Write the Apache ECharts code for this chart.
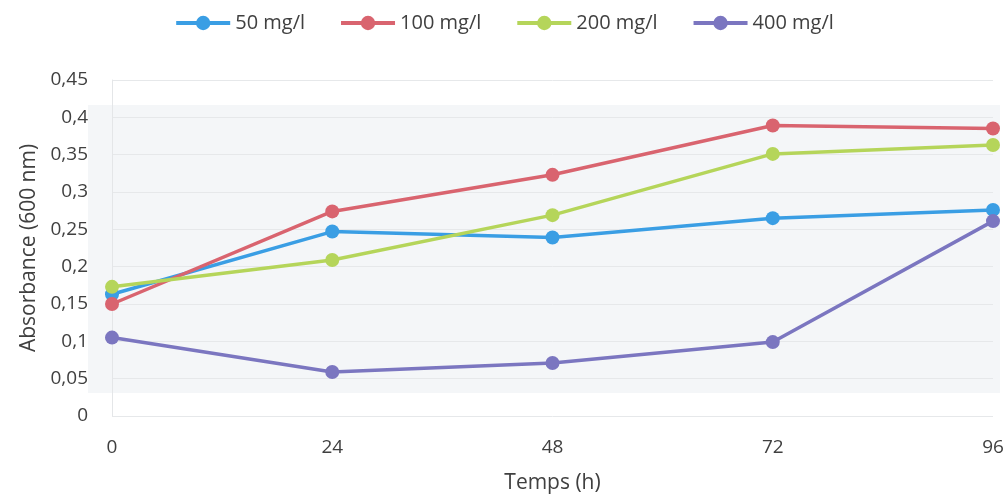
<!DOCTYPE html>
<html>
<head>
<meta charset="utf-8">
<script src="https://cdn.jsdelivr.net/npm/echarts@6/dist/echarts.min.js"></script>
<style>
  html, body { margin: 0; padding: 0; background: #fff; }
  #chart { width: 1008px; height: 496px; }
</style>
</head>
<body>
<div id="chart"></div>
<script>
// Sampling times (h)
const hours = ['0', '24', '48', '72', '96'];

// Absorbance at 600 nm for each concentration
const s50  = [0.163, 0.247, 0.239, 0.265, 0.276];
const s100 = [0.150, 0.274, 0.323, 0.389, 0.385];
const s200 = [0.173, 0.209, 0.269, 0.351, 0.363];
const s400 = [0.105, 0.059, 0.071, 0.099, 0.261];

const seriesNames = ['50 mg/l', '100 mg/l', '200 mg/l', '400 mg/l'];
const seriesData = [s50, s100, s200, s400];
const colors = ['#3a9ee4', '#d9646f', '#b5d55a', '#7b76c0'];

const font = '"Open Sans", "Noto Sans", sans-serif';
const textColor = '#404040';

const chart = echarts.init(document.getElementById('chart'));

chart.setOption({
  animation: false,
  textStyle: { fontFamily: font },
  graphic: [{
    type: 'rect',
    z: -1,
    shape: { x: 88, y: 105, width: 912, height: 288 },
    style: { fill: '#f4f6f8' }
  }],
  legend: {
    top: 8,
    left: 'center',
    itemWidth: 54,
    itemHeight: 18,
    itemGap: 34,
    lineStyle: { width: 4 },
    textStyle: { fontSize: 20, color: textColor, fontFamily: font },
    data: seriesNames
  },
  grid: { left: 112, right: 15, top: 80, bottom: 80, outerBoundsMode: 'none', containLabel: false },
  xAxis: {
    type: 'category',
    data: hours,
    boundaryGap: false,
    name: 'Temps (h)',
    nameLocation: 'middle',
    nameGap: 57,
    nameTextStyle: { fontSize: 21, color: textColor },
    axisLine: { show: false },
    axisTick: { show: false },
    axisLabel: { fontSize: 19, color: textColor, margin: 22 },
    splitLine: { show: false }
  },
  yAxis: {
    type: 'value',
    min: 0,
    max: 0.45,
    interval: 0.05,
    name: 'Absorbance (600 nm)',
    nameLocation: 'middle',
    nameGap: 70,
    nameTextStyle: { fontSize: 21, color: textColor },
    axisLine: { show: true, lineStyle: { color: '#e4e6e8', width: 1 } },
    axisTick: { show: false },
    axisLabel: {
      fontSize: 19,
      color: textColor,
      margin: 24,
      formatter: v => String(Math.round(v * 100) / 100).replace('.', ',')
    },
    splitLine: { lineStyle: { color: '#e6e8ea', width: 1 } }
  },
  series: seriesNames.map((name, i) => ({
    name: name,
    type: 'line',
    data: seriesData[i],
    symbol: 'circle',
    symbolSize: 14,
    lineStyle: { width: 3.5, color: colors[i] },
    itemStyle: { color: colors[i] }
  }))
});
</script>
</body>
</html>
